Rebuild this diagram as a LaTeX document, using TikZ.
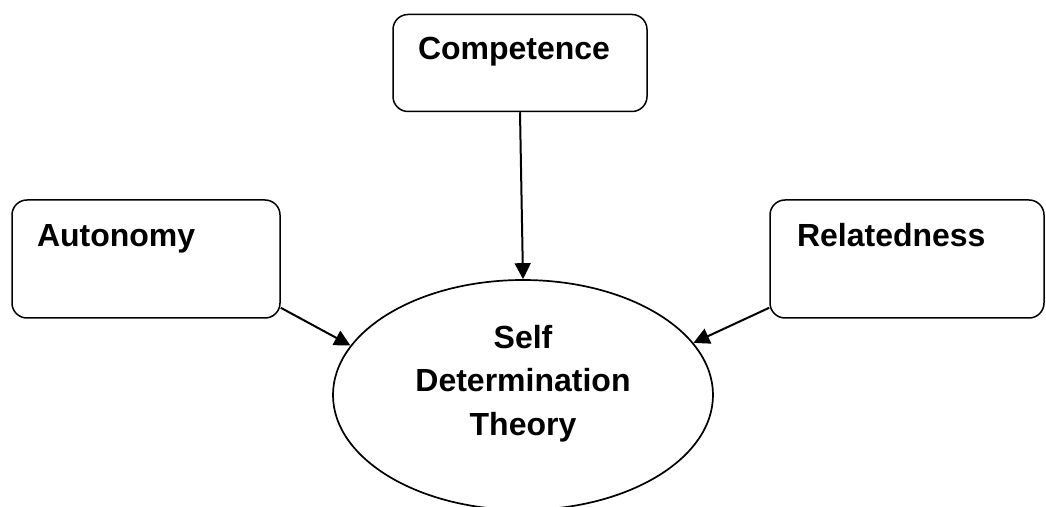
\documentclass[tikz,border=0pt]{standalone}
\usepackage{fontspec}
\setmainfont{Liberation Sans}
\usetikzlibrary{shapes.geometric,arrows.meta}
\begin{document}
\begin{tikzpicture}[x=1pt,y=1pt,
  every node/.style={font=\fontsize{32}{43}\selectfont\bfseries},
  boxnode/.style={draw, line width=1.5pt, rounded corners=15pt, inner ysep=0pt, align=left},
  ovalnode/.style={draw, ellipse, line width=1.7pt, inner sep=0pt, minimum width=380, minimum height=230, align=center},
  arr/.style={line width=2pt, -{Triangle[length=16pt,width=16pt]}}]
\useasboundingbox (0,0) rectangle (1046,506);
\node[boxnode, inner xsep=25pt, text width=204pt, text height=45pt, text depth=52pt] (comp) at (520,443) {Competence};
\node[boxnode, inner xsep=25pt, text width=218pt, text height=47pt, text depth=71pt] (aut) at (146,247) {Autonomy};
\node[boxnode, inner xsep=27pt, text width=220pt, text height=47pt, text depth=71pt] (rel) at (907,247) {Relatedness};
\node[ovalnode] (sdt) at (523,111) {\begin{tabular}[b]{@{}c@{}}Self\\Determination\\Theory\end{tabular}\rule[-36.1pt]{0pt}{0pt}};
\draw[arr] (comp.south) -- (sdt.north);
\draw[arr] ([yshift=11pt]aut.south east) -- (sdt.164);
\draw[arr] ([yshift=11pt]rel.south west) -- (sdt.17);
\end{tikzpicture}
\end{document}
